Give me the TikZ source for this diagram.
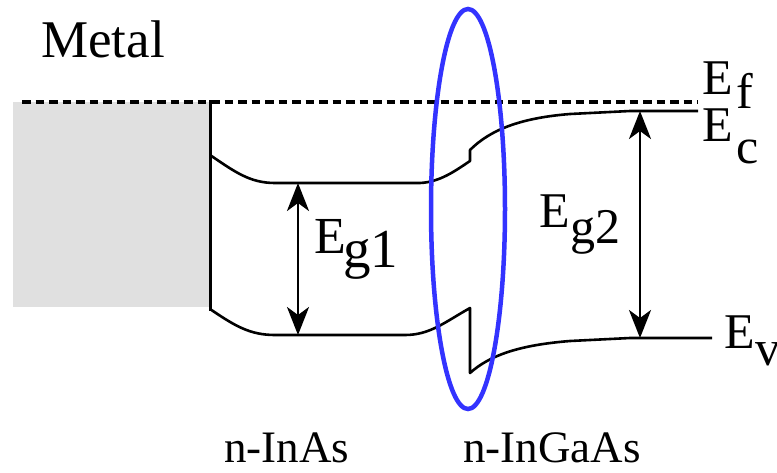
\documentclass[tikz,border=0pt]{standalone}
\usepackage{fontspec}
\newfontfamily\tnr{Liberation Serif}
\usetikzlibrary{arrows.meta}
\definecolor{metalgray}{RGB}{224,224,224}
\definecolor{ellblue}{RGB}{51,51,255}
\newcommand{\txt}[2]{\scalebox{#1}{#2}}
\begin{document}
\begin{tikzpicture}[x=1pt,y=-1pt,
  band/.style={line width=2.6pt, line join=round},
  gaparrow/.style={line width=2.8pt,
    {Stealth[length=28pt,width=22pt,inset=8pt]}-{Stealth[length=28pt,width=22pt,inset=8pt]}},
  lbl/.style={inner sep=0pt, anchor=base west, font=\tnr\fontsize{50}{50}\selectfont}]
\useasboundingbox (0,0) rectangle (777,472);
% metal
\fill[metalgray] (13,102) rectangle (210,307);
% Fermi level
\draw[line width=3.5pt, dash pattern=on 8.5pt off 5pt] (22,102) -- (698,102);
% interface
\draw[line width=3pt] (210,100) -- (210,311);
% conduction band
\draw[band] (210,155) .. controls (235,172) and (250,183) .. (275,183)
  -- (420,183) .. controls (440,182) and (455,171) .. (470,161)
  -- (470,150) .. controls (490,130) and (520,118) .. (570,114)
  .. controls (600,112) .. (630,111) -- (698,111);
% valence band
\draw[band] (210,309) .. controls (235,326) and (250,335) .. (275,335)
  -- (405,335) .. controls (430,335) and (445,322) .. (470,308)
  -- (470,373) .. controls (490,355) and (520,345) .. (570,341)
  .. controls (600,339) .. (630,338) -- (712,338);
% band gap arrows
\coordinate (g1top) at (298,183);
\coordinate (g1bot) at (298,335);
\coordinate (g2top) at (640,111);
\coordinate (g2bot) at (640,338);
\draw[gaparrow] (g1top) -- (g1bot);
\draw[gaparrow] (g2top) -- (g2bot);
% highlight ellipse
\draw[ellblue, line width=4.5pt] (468,209) ellipse [x radius=37pt, y radius=200pt];
% labels
\node[lbl] (metal) at (41,57) {\txt{1.06}{Metal}};
\node[lbl] (inas) at (224,462) {\txt{0.9}{n-InAs}};
\node[lbl] (ingaas) at (463,462) {\txt{0.9}{n-InGaAs}};
\node[lbl] (ef) at (702,94) {E};
\node[lbl] (efs) at (736,108) {f};
\node[lbl] (ec) at (702,141) {E};
\node[lbl] (ecs) at (736,163) {c};
\node[lbl] (ev) at (724,348) {E};
\node[lbl] (evs) at (755,365) {v};
\node[lbl] (eg1) at (314,253) {\txt{1.04}{E}};
\node[lbl] (eg1s) at (343,267) {\txt{1.1}{g1}};
\node[lbl] (eg2) at (539,227) {E};
\node[lbl] (eg2s) at (570,243) {g2};
\end{tikzpicture}
\end{document}
